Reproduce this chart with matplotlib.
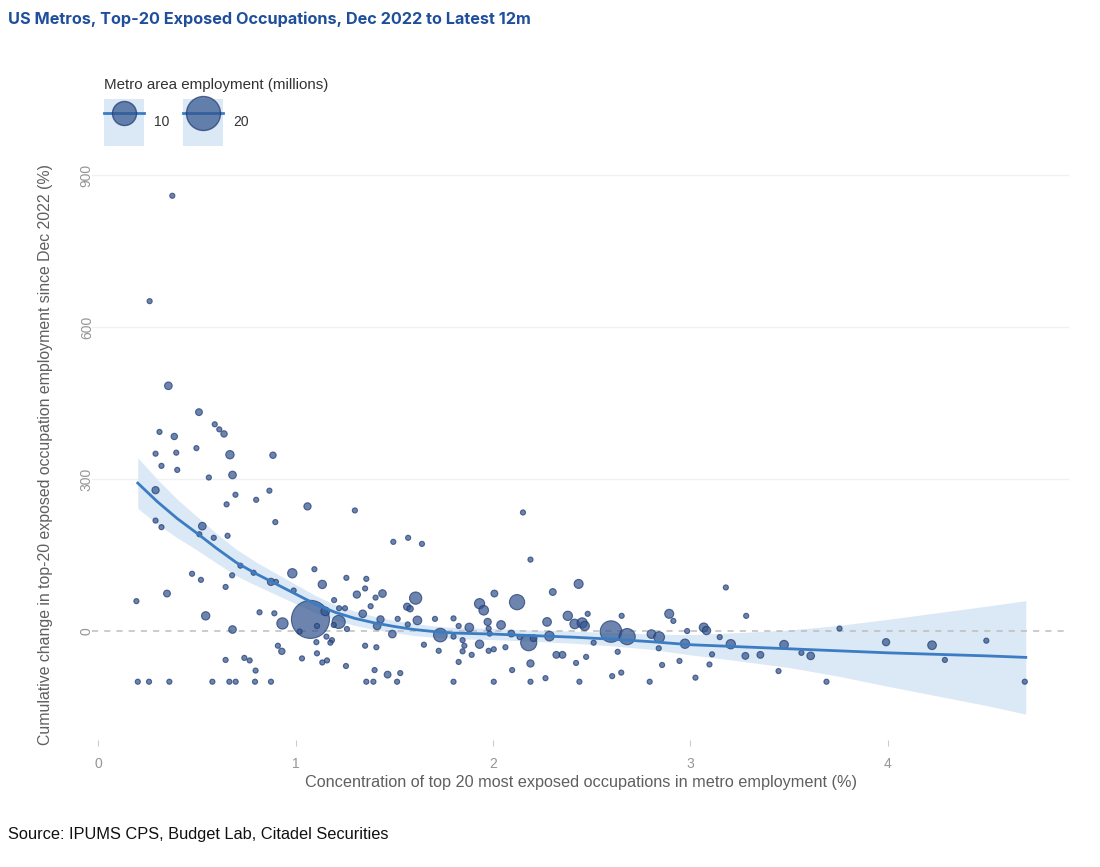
"""
US metros: concentration of top-20 AI-exposed occupations vs cumulative
change in their employment since Dec 2022, bubble size = metro employment.
"""
import matplotlib
matplotlib.use('Agg')
import matplotlib.pyplot as plt
from matplotlib.lines import Line2D
from matplotlib.patches import Patch

# Metro points: concentration (%), cumulative change (%), employment (millions)
conc = [
    0.375, 0.26, 0.355, 0.51, 0.31, 0.385, 0.59, 0.613, 0.637, 0.29,
    0.395, 0.497, 0.667, 0.885, 0.32, 0.40, 0.56, 0.68, 0.29, 0.695,
    0.80, 0.867, 0.65, 0.29, 0.32, 0.527, 0.512, 0.585, 0.655, 0.897,
    1.06, 1.30, 1.495, 1.57, 1.64, 0.983, 0.475, 0.52, 0.678, 0.72,
    0.787, 0.875, 0.90, 0.645, 0.99, 0.193, 0.348, 0.544, 0.817, 0.892,
    0.933, 0.68, 0.91, 0.93, 0.645, 0.74, 0.767, 0.797, 0.20, 0.257,
    0.36, 0.578, 0.664, 0.696, 0.794, 0.875, 1.075, 1.095, 1.135, 1.257,
    1.358, 1.352, 1.31, 1.44, 1.405, 1.608, 1.195, 1.38, 1.565, 1.58,
    1.22, 1.25, 1.15, 1.34, 1.43, 1.517, 1.617, 1.706, 1.80, 1.932,
    1.953, 1.218, 1.108, 1.193, 1.413, 1.568, 1.826, 1.88, 1.733, 1.49,
    1.26, 1.02, 1.156, 1.184, 1.176, 1.105, 1.65, 1.80, 1.846, 1.855,
    1.932, 1.352, 1.409, 1.725, 1.846, 1.108, 1.892, 1.032, 1.135, 1.159,
    1.255, 1.826, 1.40, 1.466, 1.53, 1.358, 1.394, 1.514, 1.80, 2.152,
    2.19, 2.007, 2.122, 2.303, 2.434, 2.041, 1.973, 2.274, 2.379, 2.414,
    2.452, 2.465, 2.48, 2.652, 2.598, 2.68, 2.803, 2.842, 2.893, 2.914,
    2.093, 2.135, 2.181, 2.206, 2.286, 1.978, 1.983, 1.978, 2.004, 2.063,
    2.321, 2.352, 2.421, 2.472, 2.51, 2.632, 2.65, 2.604, 2.19, 2.097,
    2.266, 2.857, 2.84, 2.004, 2.19, 2.438, 2.794, 2.945, 3.18, 3.283,
    2.984, 3.068, 3.082, 3.149, 2.973, 3.205, 3.475, 3.11, 3.279, 3.355,
    3.563, 3.61, 3.097, 3.447, 3.026, 3.69, 3.756, 3.992, 4.225, 4.29,
    4.50, 4.695,
]
change = [
    859, 651, 484, 432, 393, 384, 408, 398, 389, 350,
    352, 361, 348, 347, 326, 318, 303, 308, 278, 269,
    259, 277, 250, 218, 205, 207, 191, 184, 188, 215,
    246, 238, 176, 184, 172, 114, 113, 101, 110, 129,
    115, 97, 97, 87, 80, 59, 74, 30, 37, 35,
    15, 3, -29, -40, -57, -53, -58, -78, -100, -100,
    -100, -100, -100, -100, -100, -100, 23, 122, 92, 105,
    103, 84, 72, 74, 66, 65, 61, 49, 48, 44,
    45, 45, 39, 34, 23, 24, 21, 24, 25, 54,
    41, 18, 10, 12, 10, 13, 10, 7, -8, -6,
    4, -1, -11, -18, -23, -22, -27, -11, -18, -29,
    -26, -29, -32, -39, -40, -44, -47, -54, -62, -58,
    -69, -61, -77, -86, -83, -100, -100, -100, -100, 234,
    141, 74, 57, 77, 93, 12, 18, 18, 30, 14,
    16, 10, 34, 30, -1, -11, -6, -12, 34, 20,
    -5, -12, -23, -14, -10, 5, -5, -39, -36, -32,
    -47, -47, -63, -51, -23, -41, -82, -89, -64, -77,
    -93, -67, -34, -100, -100, -100, -100, -59, 86, 30,
    0, 7, 1, -12, -25, -26, -27, -46, -49, -47,
    -43, -49, -66, -79, -92, -100, 5, -22, -28, -57,
    -19, -100,
]
employment = [
    0.45, 0.45, 1.0, 0.8, 0.45, 0.7, 0.45, 0.45, 0.7, 0.45,
    0.45, 0.45, 1.2, 0.7, 0.45, 0.45, 0.45, 1.0, 0.9, 0.45,
    0.45, 0.45, 0.45, 0.45, 0.45, 1.0, 0.45, 0.45, 0.45, 0.45,
    0.9, 0.45, 0.45, 0.45, 0.45, 1.5, 0.45, 0.45, 0.45, 0.45,
    0.45, 0.9, 0.45, 0.45, 0.45, 0.45, 0.8, 1.2, 0.45, 0.45,
    2.2, 1.0, 0.45, 0.7, 0.45, 0.45, 0.45, 0.45, 0.45, 0.45,
    0.45, 0.45, 0.45, 0.45, 0.45, 0.45, 25.0, 0.45, 1.2, 0.45,
    0.45, 0.45, 0.9, 1.0, 0.45, 2.6, 0.45, 0.45, 0.9, 0.7,
    0.45, 0.45, 1.3, 1.0, 0.9, 0.45, 1.3, 0.45, 0.45, 1.8,
    1.6, 3.0, 0.45, 0.45, 1.0, 0.45, 0.45, 1.3, 3.2, 1.0,
    0.45, 0.45, 0.45, 0.45, 0.45, 0.45, 0.45, 0.45, 0.45, 0.45,
    1.2, 0.45, 0.45, 0.45, 0.45, 0.45, 0.45, 0.45, 0.45, 0.45,
    0.45, 0.45, 0.45, 0.8, 0.45, 0.45, 0.45, 0.45, 0.45, 0.45,
    0.45, 0.8, 4.0, 0.8, 1.4, 1.3, 0.9, 1.3, 1.5, 1.6,
    1.8, 1.5, 0.45, 0.45, 8.0, 4.5, 1.3, 2.0, 1.4, 0.45,
    0.8, 0.45, 4.5, 0.8, 1.6, 0.45, 0.45, 0.45, 0.45, 0.45,
    0.8, 0.8, 0.45, 0.45, 0.45, 0.45, 0.45, 0.45, 0.9, 0.45,
    0.45, 0.45, 0.45, 0.45, 0.45, 0.45, 0.45, 0.45, 0.45, 0.45,
    0.45, 1.4, 1.2, 0.45, 1.5, 1.5, 1.3, 0.45, 0.8, 0.8,
    0.45, 1.0, 0.45, 0.45, 0.45, 0.45, 0.45, 0.9, 1.3, 0.45,
    0.45, 0.45,
]

# Smoothed fit and its confidence band
fit_x = [0.2, 0.3, 0.4, 0.5, 0.6, 0.7, 0.8, 0.9, 1.0, 1.1, 1.2, 1.3, 1.4,
         1.5, 1.6, 1.7, 1.8, 2.0, 2.2, 2.4, 2.6, 2.8, 3.0, 3.25, 3.5, 3.75,
         4.0, 4.25, 4.5, 4.7]
fit_y = [292, 255, 222, 193, 163, 135, 113, 93, 73, 53, 37, 25, 16,
         9, 3, -1, -4, -6, -9, -12, -16, -21, -27, -31, -35, -39,
         -43, -46, -49, -52]
fit_half = [50, 44, 38, 33, 29, 26, 23, 21, 19, 17, 15, 14, 13,
            12, 12, 11, 11, 11, 11, 12, 13, 15, 20, 28, 37, 50,
            66, 82, 98, 112]

legend_sizes = [10, 20]

title = 'US Metros, Top-20 Exposed Occupations, Dec 2022 to Latest 12m'
source = 'Source: IPUMS CPS, Budget Lab, Citadel Securities'

point_face = '#34558f'
point_edge = '#1f3b70'
line_col = '#3b7cc2'
band_col = '#dbe8f5'
text_grey = '#5f5f5f'
scale = 30  # marker area (pt^2) per million employed

plt.rcParams['font.family'] = ['Liberation Sans', 'DejaVu Sans']

fig = plt.figure(figsize=(11, 8.67), dpi=100)
ax = fig.add_axes([0.084, 0.1465, 0.888, 0.6575])

band_lo = [y - h for y, h in zip(fit_y, fit_half)]
band_hi = [y + h for y, h in zip(fit_y, fit_half)]
ax.fill_between(fit_x, band_lo, band_hi, color=band_col, lw=0, zorder=1)
ax.axhline(0, color='#bdbdbd', lw=1.1, ls=(0, (4, 4)), zorder=2)
ax.plot(fit_x, fit_y, color=line_col, lw=2, zorder=4)
ax.scatter(conc, change, s=[scale * e for e in employment],
           facecolor=point_face, edgecolor=point_edge, linewidth=0.8,
           alpha=0.72, zorder=3)

ax.set_xlim(-0.03, 4.92)
ax.set_ylim(-215, 910)
ax.set_xticks([0, 1, 2, 3, 4])
ax.set_yticks([0, 300, 600, 900])
for yv in [300, 600, 900]:
    ax.axhline(yv, color='#f1f1f1', lw=1, zorder=0)
for s in ax.spines.values():
    s.set_visible(False)
ax.tick_params(axis='x', colors='#cccccc', length=4, width=0.8,
               labelcolor='#959595', labelsize=10, pad=8)
ax.tick_params(axis='y', length=0, labelcolor='#959595', labelsize=10, pad=-1)
for lab in ax.get_yticklabels():
    lab.set_rotation(90)
    lab.set_va('center')

ax.set_xlabel('Concentration of top 20 most exposed occupations in metro '
              'employment (%)', fontsize=11.7, color=text_grey, labelpad=3)
ax.set_ylabel('Cumulative change in top-20 exposed occupation employment '
              'since Dec 2022 (%)', fontsize=11.4, color=text_grey, labelpad=19)

handles = []
for v in legend_sizes:
    handles.append((Patch(facecolor=band_col, edgecolor='none'),
                    Line2D([], [], color=line_col, lw=2),
                    Line2D([], [], marker='o', ls='', markersize=(scale * v) ** 0.5,
                           markerfacecolor=point_face, markeredgecolor=point_edge,
                           alpha=0.72)))
leg = fig.legend(handles, [str(v) for v in legend_sizes], ncol=2,
                 loc='upper left', bbox_to_anchor=(0.083, 0.924),
                 frameon=False, fontsize=10, handlelength=2.9,
                 handleheight=4.8, columnspacing=1.0, handletextpad=0.7,
                 title='Metro area employment (millions)', title_fontsize=10.9)
leg._legend_box.align = 'left'
leg.get_title().set_color('#333333')
for t in leg.get_texts():
    t.set_color('#333333')

fig.text(0.007, 0.978, title, fontsize=11.7, fontweight='bold',
         color='#1f4f9c', family=['Inter', 'DejaVu Sans'], va='center')
fig.text(0.007, 0.038, source, fontsize=11.8, color='#111111', va='center')

fig.savefig('out.png', dpi=100)
